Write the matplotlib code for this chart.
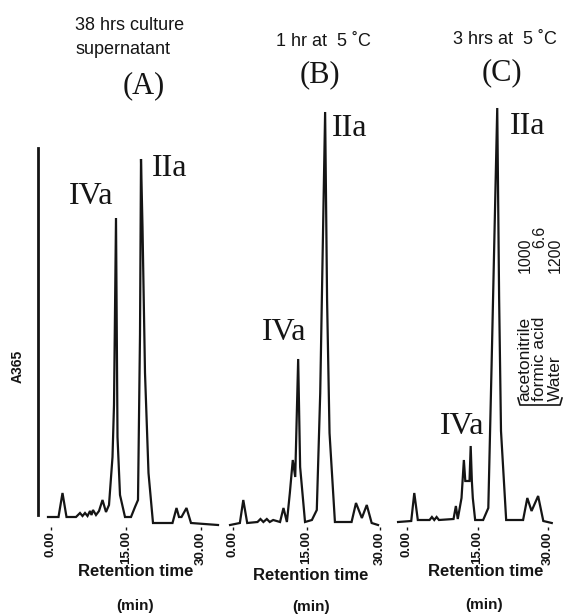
import matplotlib.pyplot as plt
from matplotlib.lines import Line2D

W, H = 577, 615

# retention time (min) / A365 signal (arbitrary units)
a_time = [-0.6, 1.5, 2.3, 3.1, 5.0, 5.8, 6.3, 6.8, 7.3, 7.8, 8.1, 8.4, 9.0, 9.6, 10.3, 11.0,
          11.6, 12.3, 12.6, 13.0, 13.3, 13.8, 14.8, 16.0, 16.8, 17.4, 17.8, 18.0, 18.3, 18.8,
          19.5, 20.4, 24.3, 25.1, 25.6, 26.1, 27.1, 28.0, 33.4]
a_sig = [8, 8, 32, 8, 8, 12, 9, 12, 9, 14, 10, 15, 10, 14, 25, 13,
         20, 68, 120, 307, 88, 30, 8, 8, 18, 25, 190, 366, 298, 152,
         52, 2, 2, 17, 8, 8, 17, 2, 0]

b_time = [-0.6, 1.4, 2.1, 2.9, 5.0, 5.6, 6.2, 6.9, 7.5, 8.2, 9.6, 10.3, 11.0, 11.6, 12.2,
          12.7, 13.3, 13.7, 14.7, 16.1, 17.1, 17.8, 18.8, 19.2, 19.7, 20.8, 24.2, 25.1,
          26.3, 27.3, 28.3, 29.6]
b_sig = [0, 2, 25, 2, 3, 6, 3, 6, 3, 5, 3, 17, 3, 32, 65,
         48, 166, 58, 3, 5, 15, 132, 413, 225, 92, 3, 3, 22,
         7, 20, 2, 0]

c_time = [-1.9, 0.9, 1.55, 2.3, 4.8, 5.3, 5.8, 6.3, 6.8, 9.9, 10.4, 10.8, 11.6, 12.1, 12.4,
          13.3, 13.55, 13.8, 14.0, 14.5, 16.2, 17.3, 18.0, 19.2, 19.6, 20.0, 21.1, 24.7,
          25.6, 26.5, 27.9, 29.0, 30.8]
c_sig = [3, 4, 32, 5, 5, 8, 5, 8, 5, 6, 19, 6, 27, 65, 44,
         44, 79, 44, 27, 5, 5, 17, 160, 417, 227, 94, 5, 5,
         27, 14, 29, 4, 2]

# start mark on trace A
start_t = -2.6
start_sig = [10, 377]

ticks = [0, 15, 30]
tick_labels = ["0.00", "15.00", "30.00"]

titles = [["38 hrs culture", "supernatant"], ["1 hr at  5 \u02daC"], ["3 hrs at  5 \u02daC"]]
letters = ["(A)", "(B)", "(C)"]

# (peak name, time, signal, ha)
peak_labels = [
    [("IVa", 8.0, 329, "center"), ("IIa", 20.2, 356, "left")],
    [("IVa", 10.4, 193, "center"), ("IIa", 20.2, 397, "left")],
    [("IVa", 11.7, 98, "center"), ("IIa", 21.9, 398, "left")],
]

solvents = ["acetonitrile", "formic acid", "Water"]
solvent_parts = ["1000", "6.6", "1200"]

ink = "#151515"
sans = "Liberation Sans"
serif = "Liberation Serif"

fig = plt.figure(figsize=(W / 100, H / 100), dpi=100)


def fx(x):
    return x / W


def fy(y):
    return 1 - y / H


# pixel position of t=0 and px per minute for each panel
origins = [51, 233, 407]
scales = [5.0, 4.9, 4.7]
xmin, xmax = -3.5, 34
top_px, bot_px = 100, 527
ylo, yhi = -2, 425

traces = [(a_time, a_sig), (b_time, b_sig), (c_time, c_sig)]
axes = []
for i, (t, s) in enumerate(traces):
    left = origins[i] + xmin * scales[i]
    width = (xmax - xmin) * scales[i]
    ax = fig.add_axes([fx(left), fy(bot_px), width / W, (bot_px - top_px) / H])
    ax.patch.set_alpha(0)
    ax.plot(t, s, color=ink, lw=1.6, solid_joinstyle="miter", clip_on=False)
    ax.set_xlim(xmin, xmax)
    ax.set_ylim(ylo, yhi)
    for sp in ax.spines.values():
        sp.set_visible(False)
    ax.set_yticks([])
    ax.set_xticks(ticks)
    ax.set_xticklabels(tick_labels, rotation=90, fontsize=9.5, fontweight="bold",
                       family=sans, color=ink)
    ax.tick_params(axis="x", length=2, width=1, pad=1, colors=ink)
    for name, pt, ps, ha in peak_labels[i]:
        ax.text(pt, ps, name, fontsize=23, family=serif, ha=ha, va="center", color=ink)
    axes.append(ax)

axes[0].plot([start_t, start_t], start_sig, color=ink, lw=2, clip_on=False)

# titles
fig.text(fx(75), fy(26), titles[0][0], fontsize=13, family=sans, ha="left", va="center", color=ink)
fig.text(fx(75), fy(50), titles[0][1], fontsize=13, family=sans, ha="left", va="center", color=ink)
fig.text(fx(323), fy(41), titles[1][0], fontsize=13, family=sans, ha="center", va="center", color=ink)
fig.text(fx(505), fy(39), titles[2][0], fontsize=13, family=sans, ha="center", va="center", color=ink)
for x, y, lab in zip([144, 320, 502], [86, 75, 73], letters):
    fig.text(fx(x), fy(y), lab, fontsize=22, family=serif, ha="center", va="center", color=ink)

# x axis labels
for x, y in zip([136, 311, 486], [572, 575, 572]):
    fig.text(fx(x), fy(y), "Retention time", fontsize=12, fontweight="bold", family=sans,
             ha="center", va="center", color=ink)
for x, y in zip([135, 311, 484], [606, 607, 605]):
    fig.text(fx(x), fy(y), "(min)", fontsize=11, fontweight="bold", family=sans,
             ha="center", va="center", color=ink)

fig.text(fx(18), fy(366), "A365", rotation=90, fontsize=10, fontweight="bold", family=sans,
         ha="center", va="center", color=ink)

# eluent composition
for x, name, part, pbot in zip([525, 540, 555], solvents, solvent_parts, [273, 248, 273]):
    fig.text(fx(x), fy(401), name, rotation=90, fontsize=12.5, family=sans,
             ha="center", va="bottom", color=ink)
    fig.text(fx(x), fy(pbot), part, rotation=90, fontsize=11.5, family=sans,
             ha="center", va="bottom", color=ink)
fig.add_artist(Line2D([fx(518), fx(520), fx(560), fx(562)], [fy(398), fy(405), fy(405), fy(398)],
                      color=ink, lw=1.2))

fig.savefig("out.png", dpi=100, facecolor="white")
